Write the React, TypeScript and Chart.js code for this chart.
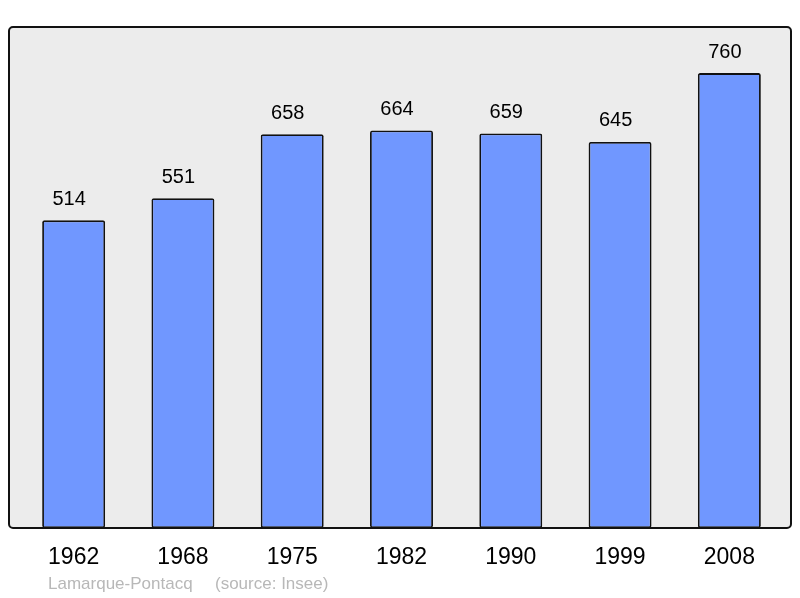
import { useEffect, useRef } from "react";
import { Chart, registerables } from "chart.js";
import type { Plugin } from "chart.js";

Chart.register(...registerables);

const years = ["1962", "1968", "1975", "1982", "1990", "1999", "2008"];
const population = [514, 551, 658, 664, 659, 645, 760];
const townName = "Lamarque-Pontacq";
const sourceNote = "(source: Insee)";

const FONT = "'Liberation Sans', Arial, sans-serif";

const framePlugin: Plugin<"bar"> = {
  id: "frame",
  beforeDatasetsDraw(chart) {
    const { ctx, chartArea } = chart;
    ctx.save();
    ctx.fillStyle = "#ececec";
    ctx.beginPath();
    ctx.roundRect(chartArea.left - 10, chartArea.top, chartArea.right - chartArea.left + 17, chartArea.bottom - chartArea.top, 4);
    ctx.fill();
    ctx.restore();
  },
  afterDatasetsDraw(chart) {
    const { ctx, chartArea } = chart;
    const x = chart.scales.x;
    const y = chart.scales.y;
    ctx.save();
    ctx.strokeStyle = "#111";
    ctx.lineWidth = 2;
    ctx.beginPath();
    ctx.roundRect(chartArea.left - 10, chartArea.top, chartArea.right - chartArea.left + 17, chartArea.bottom - chartArea.top, 4);
    ctx.stroke();

    ctx.fillStyle = "#000";
    ctx.textAlign = "center";
    ctx.textBaseline = "middle";
    ctx.font = `20px ${FONT}`;
    population.forEach((v, i) => {
      ctx.fillText(String(v), x.getPixelForValue(i) - 4.5, y.getPixelForValue(v) - 21);
    });

    ctx.font = `23px ${FONT}`;
    years.forEach((yr, i) => {
      ctx.fillText(yr, x.getPixelForValue(i), chartArea.bottom + 30);
    });

    ctx.fillStyle = "#b8b8b8";
    ctx.textAlign = "left";
    ctx.font = `17px ${FONT}`;
    ctx.fillText(townName, 48, chartArea.bottom + 56);
    ctx.fillText(sourceNote, 215, chartArea.bottom + 56);
    ctx.restore();
  },
};

export default function App() {
  const canvasRef = useRef<HTMLCanvasElement | null>(null);

  useEffect(() => {
    if (!canvasRef.current) return;
    const chart = new Chart(canvasRef.current, {
      type: "bar",
      data: {
        labels: years,
        datasets: [
          {
            data: population,
            backgroundColor: "#7097ff",
            borderColor: "#111",
            borderWidth: 1.8,
            borderRadius: 2,
            borderSkipped: false,
            barPercentage: 0.576,
            categoryPercentage: 1,
          },
        ],
      },
      options: {
        animation: false,
        responsive: true,
        maintainAspectRatio: false,
        layout: { padding: { left: 19, right: 16, top: 27, bottom: 70 } },
        plugins: { legend: { display: false }, tooltip: { enabled: false } },
        scales: {
          x: { display: false },
          y: { display: false, min: 0, max: 837 },
        },
      },
      plugins: [framePlugin],
    });
    return () => chart.destroy();
  }, []);

  return (
    <div style={{ position: "absolute", left: 0, top: 0, width: 800, height: 598 }}>
      <canvas ref={canvasRef} />
    </div>
  );
}
